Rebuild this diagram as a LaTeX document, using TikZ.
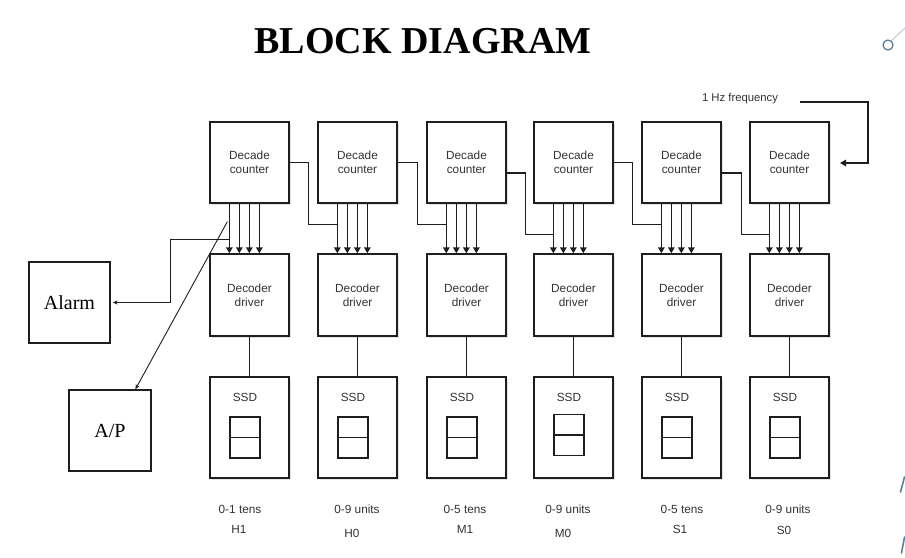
\documentclass[tikz,border=0pt]{standalone}
\usepackage{fontspec}
\setmainfont{Liberation Serif}
\setsansfont{Liberation Sans}
\usetikzlibrary{arrows.meta,calc,shadows}
\definecolor{linec}{HTML}{1E1E1E}
\definecolor{txtc}{HTML}{333333}
\definecolor{deco}{HTML}{5F7F98}
\definecolor{decol}{HTML}{C9D2DA}
\begin{document}
\begin{tikzpicture}[x=1pt,y=-1pt,
  blk/.style={draw=linec,line width=1.3pt,fill=white,inner sep=0pt,align=center,
    font=\sffamily\fontsize{11.8}{14}\selectfont,text=txtc,
    drop shadow={shadow xshift=1.8pt,shadow yshift=-1.8pt,opacity=0.22}},
  plainbox/.style={draw=linec,line width=1.3pt,fill=white,inner sep=0pt,
    font=\fontsize{20}{24}\selectfont},
  lbl/.style={font=\sffamily\fontsize{11.8}{14}\selectfont,text=txtc,inner sep=0pt},
  wire/.style={draw=linec,line width=1.3pt},
  busarrow/.style={wire,-{Triangle[length=6pt,width=6.5pt]}},
  thinarrow/.style={draw=linec,line width=0.9pt,-{Stealth[length=5pt,width=4pt]}}]
\fill[white] (0,0) rectangle (905,557);
\useasboundingbox (0,0) rectangle (905,557);

% title
\node[font=\bfseries\fontsize{38}{44}\selectfont,inner sep=0pt] (title) at (423,41) {BLOCK DIAGRAM};

% columns
\foreach \i/\x/\dy in {1/210/0,2/318/0,3/427/0,4/534/-2.5,5/642/0,6/750/0} {
  \node[blk,minimum width=79pt,minimum height=81pt] (c\i) at (\x+39.5,162.5) {Decade\\counter};
  \node[blk,minimum width=79pt,minimum height=82pt] (d\i) at (\x+39.5,295) {Decoder\\driver};
  \node[blk,minimum width=79pt,minimum height=101pt] (s\i) at (\x+39.5,427.5) {};
  \node[lbl] (sl\i) at (\x+35,397) {SSD};
  \node[draw=linec,line width=1.3pt,minimum width=30pt,minimum height=41pt,inner sep=0pt] (disp\i) at (\x+35,437.5+\dy) {};
  \draw[wire] (disp\i.west) -- (disp\i.east);
  \draw[wire] (d\i) -- (s\i);
  \foreach \k in {20,30,40,50} {
    \draw[busarrow] ($(c\i.south west)+(\k,0)$) -- ($(d\i.north west)+(\k,0)$);
  }
}

% carry connections
\coordinate (j2) at ($(c2.south west)+(20,21)$);
\coordinate (j3) at ($(c3.south west)+(20,21)$);
\coordinate (j4) at ($(c4.south west)+(20,31)$);
\coordinate (j5) at ($(c5.south west)+(20,21)$);
\coordinate (j6) at ($(c6.south west)+(20,31)$);
\draw[wire] (c1.east) -- ++(19,0) |- (j2);
\draw[wire] (c2.east) -- ++(20,0) |- (j3);
\draw[wire] ($(c3.east)+(0,10.5)$) -- ++(19,0) |- (j4);
\draw[wire] (c4.east) -- ++(19,0) |- (j5);
\draw[wire] ($(c5.east)+(0,10.5)$) -- ++(20,0) |- (j6);

% 1 Hz input
\node[lbl,font=\sffamily\fontsize{11.3}{13}\selectfont] (hz) at (740,99) {1 Hz frequency};
\coordinate (hzs) at (800,102);
\coordinate (hze) at (840,163);
\draw[wire,-{Triangle[length=6pt,width=6.5pt]}] (hzs) -- ++(68,0) |- (hze);

% alarm and A/P
\node[plainbox,minimum width=81pt,minimum height=81pt] (alarm) at (69.5,302.5) {Alarm};
\node[plainbox,minimum width=82pt,minimum height=81pt] (ap) at (110,430.5) {A/P};
\coordinate (ja) at ($(c1.south west)+(20,36)$);
\draw[thinarrow] (ja) -- ++(-59,0) |- ($(alarm.east)+(2,0)$);
\coordinate (js) at ($(c1.south west)+(18,18)$);
\draw[thinarrow] (js) -- ($(ap.north west)+(67,0)$);

% bottom labels
\node[lbl] (r1) at (240,509) {0-1 tens};  \node[lbl] (n1) at (239,529) {H1};
\node[lbl] (r2) at (357,509) {0-9 units}; \node[lbl] (n2) at (352,533) {H0};
\node[lbl] (r3) at (465,509) {0-5 tens};  \node[lbl] (n3) at (465,529) {M1};
\node[lbl] (r4) at (568,509) {0-9 units}; \node[lbl] (n4) at (563,533) {M0};
\node[lbl] (r5) at (682,509) {0-5 tens};  \node[lbl] (n5) at (680,529) {S1};
\node[lbl] (r6) at (788,509) {0-9 units}; \node[lbl] (n6) at (784,530) {S0};

% slide decorations
\draw[decol,line width=1.2pt] (891.5,40.5) -- (905,28);
\draw[deco,line width=1.3pt] (888,45) circle (5);
\draw[deco,line width=1.6pt,line cap=round] (900.5,492) -- (904.5,477);
\draw[deco,line width=1.6pt,line cap=round] (901.5,553) -- (904.5,537);
\end{tikzpicture}
\end{document}
